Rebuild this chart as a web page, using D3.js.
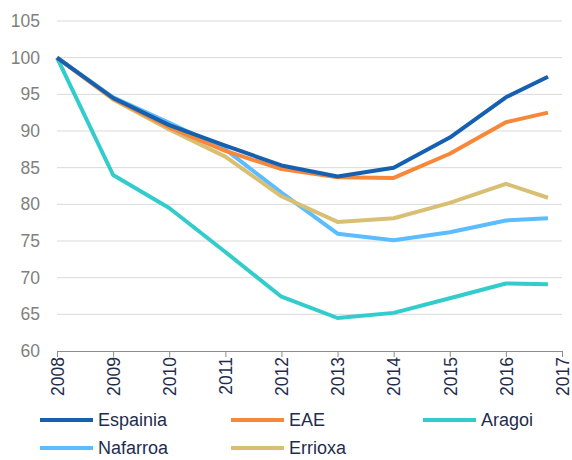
<!DOCTYPE html>
<html>
<head>
  <meta charset="utf-8">
  <script src="https://d3js.org/d3.v7.min.js"></script>
  <style>
    body { margin: 0; background: #fff; }
    svg text { font-family: "Liberation Sans", Arial, sans-serif; }
  </style>
</head>
<body>
<script>
// years on the x axis (last point sits before the 2017 tick)
var years = [2008, 2009, 2010, 2011, 2012, 2013, 2014, 2015, 2016, 2016.75];
var tickYears = [2008, 2009, 2010, 2011, 2012, 2013, 2014, 2015, 2016, 2017];
var yTicks = [60, 65, 70, 75, 80, 85, 90, 95, 100, 105];

var espainia = [100, 94.5, 90.8, 88.0, 85.3, 83.8, 85.0, 89.1, 94.6, 97.4];
var eae      = [100, 94.4, 90.5, 87.3, 84.8, 83.7, 83.6, 86.9, 91.2, 92.5];
var aragoi   = [100, 84.0, 79.5, 73.5, 67.4, 64.5, 65.2, 67.2, 69.2, 69.1];
var nafarroa = [100, 94.6, 91.1, 87.5, 81.6, 76.0, 75.1, 76.2, 77.8, 78.1];
var errioxa  = [100, 94.3, 90.2, 86.5, 81.1, 77.6, 78.1, 80.2, 82.8, 80.9];

var seriesNames = ["Espainia", "EAE", "Aragoi", "Nafarroa", "Errioxa"];
var seriesData = [espainia, eae, aragoi, nafarroa, errioxa];
var colors = ["#1560b0", "#f7883a", "#33cccc", "#5bbcff", "#d9bf73"];

var W = 572, H = 460;
var svg = d3.select("body").append("svg").attr("width", W).attr("height", H);

var x = d3.scaleLinear().domain([2008, 2017]).range([57, 562]);
var y = d3.scaleLinear().domain([60, 105]).range([351, 21]);

// gridlines
svg.append("g").selectAll("line").data(yTicks.slice(1)).enter().append("line")
  .attr("x1", 57).attr("x2", 562)
  .attr("y1", function(d) { return y(d); }).attr("y2", function(d) { return y(d); })
  .attr("stroke", "#d9d9d9").attr("stroke-width", 1);

// y labels
svg.append("g").selectAll("text").data(yTicks).enter().append("text")
  .attr("x", 40).attr("y", function(d) { return y(d); })
  .attr("dy", "0.35em").attr("text-anchor", "end")
  .attr("fill", "#808080").style("font-size", "17.5px")
  .text(function(d) { return d; });

// x axis
var xAxis = d3.axisBottom(x).tickValues(tickYears).tickFormat(d3.format("d")).tickSize(6).tickSizeOuter(0);
var gx = svg.append("g").attr("transform", "translate(0," + y(60) + ")").call(xAxis);
gx.select(".domain").attr("stroke", "#8c8c8c");
gx.selectAll(".tick line").attr("stroke", "#8c8c8c");
gx.selectAll(".tick text")
  .attr("transform", "rotate(-90)")
  .attr("x", -6).attr("y", 0).attr("dy", "0.36em")
  .attr("text-anchor", "end")
  .attr("fill", "#1f2d4d")
  .style("font-size", "17.5px")
  .style("font-family", "'Liberation Sans', Arial, sans-serif");

// lines
var line = d3.line()
  .x(function(d, i) { return x(years[i]); })
  .y(function(d) { return y(d); });

var order = [3, 4, 2, 1, 0];
order.forEach(function(k) {
  svg.append("path").datum(seriesData[k])
    .attr("d", line).attr("fill", "none")
    .attr("stroke", colors[k]).attr("stroke-width", 4)
    .attr("stroke-linejoin", "round");
});

// legend
var legendPos = [[40, 420], [231, 420], [423, 420], [40, 448], [231, 448]];
seriesNames.forEach(function(name, i) {
  var g = svg.append("g").attr("transform", "translate(" + legendPos[i][0] + "," + legendPos[i][1] + ")");
  g.append("line").attr("x1", 0).attr("x2", 53).attr("y1", 0).attr("y2", 0)
    .attr("stroke", colors[i]).attr("stroke-width", 4);
  g.append("text").attr("x", 58).attr("y", 0).attr("dy", "0.35em")
    .attr("fill", "#1f2d4d").style("font-size", "18px").text(name);
});
</script>
</body>
</html>
